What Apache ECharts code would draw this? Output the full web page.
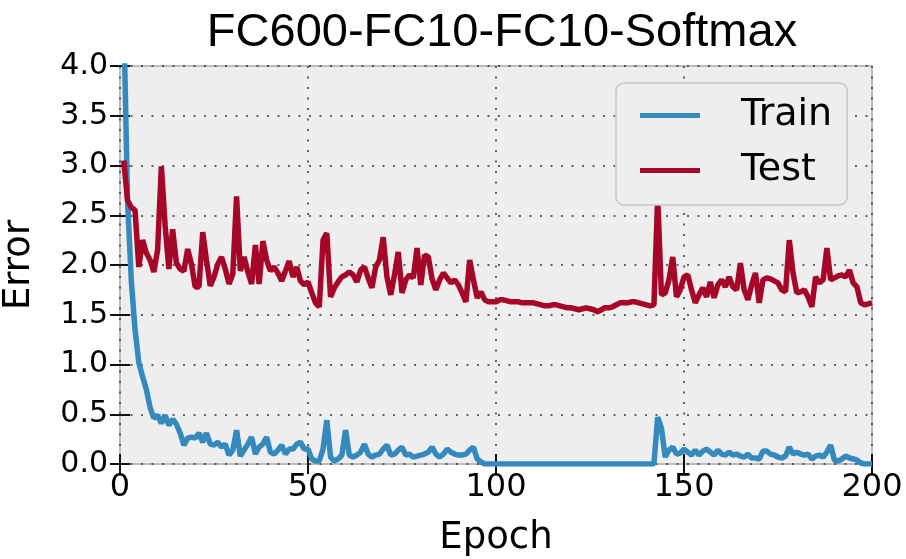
<!DOCTYPE html>
<html>
<head>
<meta charset="utf-8">
<script src="https://cdn.jsdelivr.net/npm/echarts@6/dist/echarts.min.js"></script>
<style>
  html, body { margin: 0; padding: 0; background: #fff; }
  #chart { width: 906px; height: 559px; }
</style>
</head>
<body>
<div id="chart"></div>
<script>
// epochs 1..200
const epochs = []
for (let e = 1; e <= 200; e++) epochs.push(e)

const trainError = [
  4.5, 2.65, 1.85, 1.35, 1.02, 0.88, 0.75, 0.57, 0.46, 0.49,
  0.41, 0.49, 0.39, 0.45, 0.40, 0.31, 0.19, 0.26, 0.27, 0.26,
  0.31, 0.22, 0.31, 0.20, 0.19, 0.22, 0.17, 0.20, 0.09, 0.14,
  0.34, 0.08, 0.14, 0.20, 0.27, 0.10, 0.17, 0.20, 0.27, 0.12,
  0.10, 0.14, 0.19, 0.10, 0.15, 0.15, 0.20, 0.22, 0.15, 0.15,
  0.05, 0.03, 0.03, 0.15, 0.44, 0.07, 0.03, 0.05, 0.09, 0.34,
  0.09, 0.07, 0.09, 0.12, 0.20, 0.10, 0.07, 0.09, 0.10, 0.15,
  0.19, 0.09, 0.10, 0.14, 0.17, 0.09, 0.10, 0.07, 0.08, 0.09,
  0.10, 0.12, 0.17, 0.10, 0.07, 0.10, 0.15, 0.12, 0.10, 0.09,
  0.09, 0.10, 0.14, 0.17, 0.05, 0.02, 0, 0, 0, 0,
  0, 0, 0, 0, 0, 0, 0, 0, 0, 0,
  0, 0, 0, 0, 0, 0, 0, 0, 0, 0,
  0, 0, 0, 0, 0, 0, 0, 0, 0, 0,
  0, 0, 0, 0, 0, 0, 0, 0, 0, 0,
  0, 0, 0.47, 0.36, 0.07, 0.14, 0.17, 0.10, 0.11, 0.15,
  0.12, 0.09, 0.14, 0.09, 0.13, 0.15, 0.12, 0.09, 0.14, 0.10,
  0.09, 0.12, 0.09, 0.10, 0.08, 0.07, 0.10, 0.06, 0.06, 0.05,
  0.13, 0.13, 0.10, 0.09, 0.07, 0.06, 0.08, 0.17, 0.10, 0.12,
  0.10, 0.09, 0.10, 0.05, 0.08, 0.09, 0.07, 0.12, 0.19, 0.04,
  0.03, 0.05, 0.08, 0.06, 0.05, 0.04, 0.01, 0, 0, 0
]

const testError = [
  3.05, 2.65, 2.58, 2.55, 1.98, 2.25, 2.12, 2.05, 1.93, 2.15,
  2.99, 2.40, 1.96, 2.36, 2.02, 1.96, 1.94, 2.16, 2.01, 1.78,
  1.78, 2.33, 2.05, 1.79, 1.88, 2.01, 2.08, 1.96, 1.81, 1.91,
  2.69, 1.94, 2.08, 1.93, 1.81, 2.20, 1.81, 2.24, 2.05, 1.94,
  1.98, 1.92, 1.84, 1.94, 2.04, 1.88, 1.98, 1.84, 1.80, 1.83,
  1.72, 1.62, 1.58, 2.25, 2.32, 1.68, 1.77, 1.83, 1.88, 1.90,
  1.93, 1.90, 1.83, 1.95, 1.98, 1.87, 1.77, 1.98, 2.05, 2.28,
  1.88, 1.70, 1.90, 2.13, 1.72, 1.85, 1.90, 1.87, 2.17, 1.80,
  2.10, 2.08, 1.86, 1.75, 1.85, 1.92, 1.87, 1.82, 1.85, 1.80,
  1.72, 1.63, 2.05, 1.85, 1.67, 1.73, 1.65, 1.63, 1.63, 1.63,
  1.65, 1.65, 1.64, 1.63, 1.63, 1.63, 1.62, 1.62, 1.62, 1.62,
  1.61, 1.60, 1.59, 1.59, 1.60, 1.60, 1.59, 1.58, 1.57, 1.57,
  1.56, 1.55, 1.56, 1.57, 1.56, 1.55, 1.53, 1.55, 1.57, 1.57,
  1.58, 1.60, 1.62, 1.62, 1.62, 1.63, 1.63, 1.62, 1.61, 1.60,
  1.59, 1.60, 2.68, 1.70, 1.72, 1.85, 2.08, 1.68, 1.75, 1.88,
  1.90, 1.75, 1.62, 1.70, 1.77, 1.68, 1.83, 1.67, 1.80, 1.85,
  1.78, 1.88, 1.78, 1.75, 2.02, 1.75, 1.65, 1.80, 1.92, 1.62,
  1.85, 1.87, 1.86, 1.84, 1.82, 1.75, 1.73, 2.25, 1.92, 1.72,
  1.73, 1.75, 1.68, 1.58, 1.88, 1.82, 1.85, 2.17, 1.85, 1.87,
  1.89, 1.90, 1.88, 1.95, 1.82, 1.78, 1.62, 1.60, 1.61, 1.62
]

const xTicks = [0, 50, 100, 150, 200]
const yTicks = [0, 0.5, 1, 1.5, 2, 2.5, 3, 3.5, 4]

const chart = echarts.init(document.getElementById('chart'))

const tickFont = 'DejaVu Sans'
const gridDots = { color: '#333', width: 1.5, type: [2, 8.5] }
const inTick = { show: true, inside: true, length: 10, lineStyle: { color: '#111', width: 2 } }

const option = {
  animation: false,
  backgroundColor: '#fff',
  title: {
    text: 'FC600-FC10-FC10-Softmax',
    left: 497,
    top: 5,
    textAlign: 'center',
    textStyle: {
      fontFamily: 'Liberation Sans',
      fontWeight: 'normal',
      fontSize: 47,
      color: '#000'
    }
  },
  grid: {
    left: 120,
    right: 34,
    top: 66,
    bottom: 95,
    outerBoundsMode: 'none',
    containLabel: false,
    show: true,
    backgroundColor: '#eeeeee',
    borderColor: '#bcbcbc',
    borderWidth: 2
  },
  legend: {
    orient: 'vertical',
    left: 616,
    top: 83,
    data: ['Train', 'Test'],
    icon: 'rect',
    itemWidth: 60,
    itemHeight: 5,
    itemGap: 10,
    padding: [10, 15, 12, 24],
    backgroundColor: '#eeeeee',
    borderColor: '#c8c8c8',
    borderWidth: 1.5,
    borderRadius: 8,
    textStyle: {
      fontFamily: tickFont,
      fontSize: 38,
      color: '#000',
      lineHeight: 45,
      padding: [0, 0, 0, 36]
    }
  },
  xAxis: [
    {
      type: 'value',
      min: 0,
      max: 200,
      interval: 50,
      name: 'Epoch',
      nameLocation: 'middle',
      nameGap: 56,
      nameTextStyle: { fontFamily: tickFont, fontSize: 37, color: '#000' },
      axisLine: { show: false },
      axisTick: inTick,
      axisLabel: {
        fontFamily: tickFont,
        fontSize: 32,
        color: '#000',
        margin: 8,
        formatter: v => xTicks.includes(v) ? String(v) : ''
      },
      splitLine: { show: true, lineStyle: gridDots }
    },
    {
      type: 'value',
      position: 'top',
      min: 0,
      max: 200,
      interval: 50,
      axisLine: { show: false },
      axisTick: inTick,
      axisLabel: { show: false },
      splitLine: { show: false }
    }
  ],
  yAxis: [
    {
      type: 'value',
      min: 0,
      max: 4,
      interval: 0.5,
      name: 'Error',
      nameLocation: 'middle',
      nameGap: 82,
      nameTextStyle: { fontFamily: tickFont, fontSize: 37, color: '#000' },
      axisLine: { show: false },
      axisTick: inTick,
      axisLabel: {
        fontFamily: tickFont,
        fontSize: 30,
        color: '#000',
        margin: 12,
        formatter: v => yTicks.includes(v) ? v.toFixed(1) : ''
      },
      splitLine: { show: true, lineStyle: gridDots }
    },
    {
      type: 'value',
      position: 'right',
      min: 0,
      max: 4,
      interval: 0.5,
      axisLine: { show: false },
      axisTick: inTick,
      axisLabel: { show: false },
      splitLine: { show: false }
    }
  ],
  series: [
    {
      name: 'Train',
      type: 'line',
      data: epochs.map((e, i) => [e, trainError[i]]),
      showSymbol: false,
      clip: true,
      color: '#348ABD',
      lineStyle: { color: '#348ABD', width: 5.5 },
      z: 3
    },
    {
      name: 'Test',
      type: 'line',
      data: epochs.map((e, i) => [e, testError[i]]),
      showSymbol: false,
      clip: true,
      color: '#A60628',
      lineStyle: { color: '#A60628', width: 5.5 },
      z: 3
    }
  ]
}

chart.setOption(option)
</script>
</body>
</html>
